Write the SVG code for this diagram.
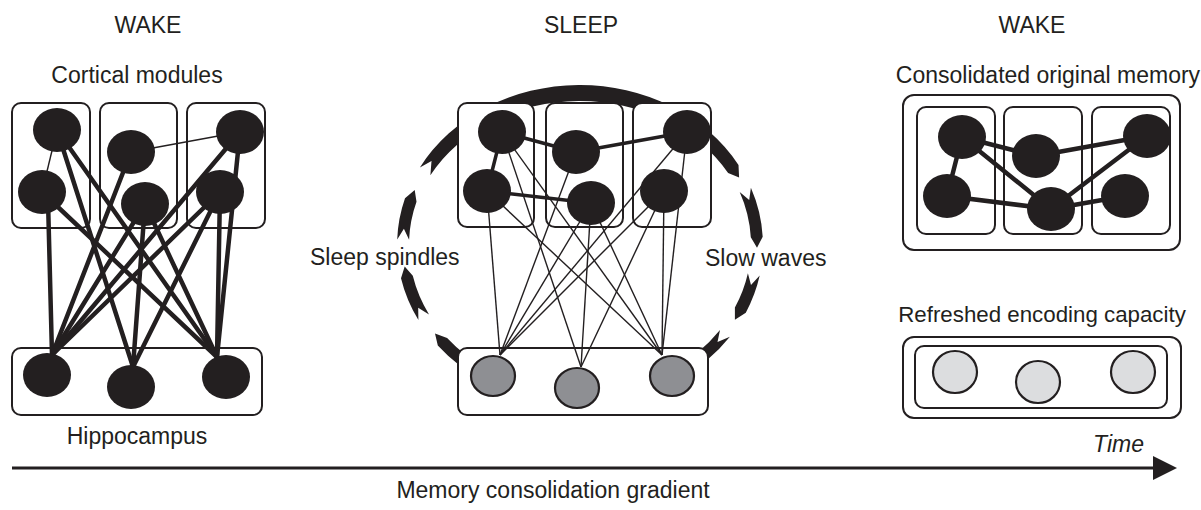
<svg xmlns="http://www.w3.org/2000/svg" width="1201" height="510" viewBox="0 0 1201 510">
<style>
.box{fill:#fff;stroke:#231f20;stroke-width:2}
.n{fill:#231f20}
.g{fill:#8e8f93;stroke:#231f20;stroke-width:2.2}
.lg{fill:#dcdddf;stroke:#231f20;stroke-width:2.2}
.thk{stroke:#231f20;stroke-width:4.5;stroke-linecap:round;fill:none}
.med{stroke:#231f20;stroke-width:3.5;stroke-linecap:round;fill:none}
.thn{stroke:#231f20;stroke-width:1.4;fill:none}
.arc{fill:#231f20}
text{font-family:"Liberation Sans",Arial,Helvetica,sans-serif;font-size:23px;fill:#231f20}
</style>

<g id="labels">
<text x="148" y="33" text-anchor="middle">WAKE</text>
<text x="581" y="33" text-anchor="middle">SLEEP</text>
<text x="1032" y="33" text-anchor="middle">WAKE</text>
<text x="137" y="83" text-anchor="middle">Cortical modules</text>
<text x="1048" y="83" text-anchor="middle">Consolidated original memory</text>
<text x="310" y="265">Sleep spindles</text>
<text x="705" y="266">Slow waves</text>
<text x="1042" y="322" text-anchor="middle" style="font-size:22.3px">Refreshed encoding capacity</text>
<text x="137" y="444" text-anchor="middle">Hippocampus</text>
<text x="1144" y="452" text-anchor="end" font-style="italic">Time</text>
<text x="553" y="498" text-anchor="middle">Memory consolidation gradient</text>
</g>

<g id="time-axis">
<line x1="12" y1="468" x2="1155" y2="468" stroke="#231f20" stroke-width="3"/>
<path d="M1153,456 L1177,468 L1153,480 Z" fill="#231f20"/>
</g>

<g id="sleep-cycle">
<path class="arc" d="M483.0,380.7 A183,160 0 0 1 437.8,345.6 L435.0,333.4 L447.1,338.1 A171,148 0 0 0 489.4,370.5 L475.9,369.6 Z"/>
<path class="arc" d="M418.4,320.1 A183,160 0 0 1 401.0,278.3 L404.7,266.4 L412.8,275.8 A171,148 0 0 0 429.0,314.4 L418.2,307.7 Z"/>
<path class="arc" d="M397.2,239.4 A183,160 0 0 1 405.0,198.3 L414.7,189.9 L416.5,201.8 A171,148 0 0 0 409.1,239.8 L403.9,228.8 Z"/>
<path class="arc" d="M419.9,167.4 A183,160 0 0 1 738.5,165 L739.1,177.5 L728.1,173 A171,144 0 0 0 430.4,175.2 L431.5,161.1 Z"/>
<path class="arc" d="M750.9,187.7 A183,160 0 0 1 762.7,236.7 L757.0,247.7 L750.8,237.3 A171,148 0 0 0 739.7,192.0 L749.2,200.0 Z"/>
<path class="arc" d="M759.7,275.6 A183,160 0 0 1 745.8,312.7 L734.9,319.7 L734.9,307.6 A171,148 0 0 0 747.9,273.3 L751.0,284.9 Z"/>
<path class="arc" d="M729.9,336.8 A183,160 0 0 1 677.0,380.7 L663.0,381.0 L670.6,370.5 A171,148 0 0 0 720.0,329.9 L717.5,341.9 Z"/>
</g>

<g id="wake1-modules">
<rect class="box" x="12" y="103" width="78" height="125" rx="9"/>
<rect class="box" x="100" y="103" width="77" height="125" rx="9"/>
<rect class="box" x="187" y="103" width="78" height="125" rx="9"/>
</g>
<g id="wake1-hippocampus"><rect class="box" x="12" y="348" width="250" height="67" rx="9"/></g>

<g id="sleep-modules">
<rect class="box" x="458" y="103" width="76" height="124" rx="9"/>
<rect class="box" x="546" y="103" width="77" height="124" rx="9"/>
<rect class="box" x="633" y="103" width="78" height="124" rx="9"/>
</g>
<g id="sleep-hippocampus"><rect class="box" x="458" y="348" width="250" height="67" rx="9"/></g>

<g id="consolidated-memory">
<rect class="box" x="903" y="95" width="277" height="155" rx="11"/>
<rect class="box" x="917" y="107" width="78" height="127" rx="9"/>
<rect class="box" x="1004" y="107" width="78" height="127" rx="9"/>
<rect class="box" x="1092" y="107" width="78" height="127" rx="9"/>
</g>
<g id="refreshed-capacity">
<rect class="box" x="903" y="337" width="278" height="81" rx="11"/>
<rect class="box" x="915" y="346" width="252" height="62" rx="9"/>
</g>

<g id="connectors">
<line class="thn" x1="57" y1="130" x2="42" y2="192"/>
<line class="thn" x1="131" y1="152" x2="240" y2="132"/>
<line class="thk" x1="57" y1="130" x2="133" y2="367"/>
<line class="thk" x1="57" y1="130" x2="217" y2="357"/>
<line class="thk" x1="48" y1="200" x2="52" y2="355"/>
<line class="thk" x1="42" y1="192" x2="217" y2="357"/>
<line class="thk" x1="131" y1="152" x2="52" y2="355"/>
<line class="thk" x1="145" y1="204" x2="52" y2="355"/>
<line class="thk" x1="145" y1="204" x2="133" y2="367"/>
<line class="thk" x1="145" y1="204" x2="217" y2="357"/>
<line class="thk" x1="240" y1="132" x2="52" y2="355"/>
<line class="thk" x1="240" y1="132" x2="217" y2="357"/>
<line class="thk" x1="220" y1="192" x2="52" y2="355"/>
<line class="thk" x1="220" y1="192" x2="133" y2="367"/>
<line class="thk" x1="220" y1="192" x2="217" y2="357"/>
<line class="med" x1="502" y1="132" x2="487" y2="191"/>
<line class="med" x1="502" y1="132" x2="576" y2="152"/>
<line class="med" x1="487" y1="191" x2="591" y2="203"/>
<line class="med" x1="576" y1="152" x2="687" y2="132"/>
<line class="thn" x1="502" y1="132" x2="581" y2="367"/>
<line class="thn" x1="502" y1="132" x2="662" y2="355"/>
<line class="thn" x1="487" y1="191" x2="500" y2="355"/>
<line class="thn" x1="487" y1="191" x2="662" y2="355"/>
<line class="thn" x1="576" y1="152" x2="500" y2="355"/>
<line class="thn" x1="591" y1="203" x2="500" y2="355"/>
<line class="thn" x1="591" y1="203" x2="581" y2="367"/>
<line class="thn" x1="591" y1="203" x2="662" y2="355"/>
<line class="thn" x1="687" y1="132" x2="500" y2="355"/>
<line class="thn" x1="687" y1="132" x2="662" y2="355"/>
<line class="thn" x1="664" y1="191" x2="500" y2="355"/>
<line class="thn" x1="664" y1="191" x2="581" y2="367"/>
<line class="thn" x1="664" y1="191" x2="662" y2="355"/>
<line class="thk" x1="962" y1="137" x2="947" y2="196"/>
<line class="thk" x1="962" y1="137" x2="1036" y2="156"/>
<line class="thk" x1="962" y1="137" x2="1051" y2="209"/>
<line class="thk" x1="947" y1="196" x2="1051" y2="209"/>
<line class="thk" x1="1036" y1="156" x2="1147" y2="136"/>
<line class="thk" x1="1051" y1="209" x2="1147" y2="136"/>
<line class="thk" x1="1051" y1="209" x2="1125" y2="196"/>
</g>

<g id="wake1-nodes">
<ellipse id="w1-a1" class="n" cx="57" cy="130" rx="24" ry="22"/>
<ellipse id="w1-a2" class="n" cx="42" cy="192" rx="24" ry="22"/>
<ellipse id="w1-b1" class="n" cx="131" cy="152" rx="24" ry="22"/>
<ellipse id="w1-b2" class="n" cx="145" cy="204" rx="24" ry="22"/>
<ellipse id="w1-c1" class="n" cx="240" cy="132" rx="24" ry="22"/>
<ellipse id="w1-c2" class="n" cx="220" cy="192" rx="24" ry="22"/>
<ellipse id="w1-h1" class="n" cx="47" cy="375" rx="24" ry="22"/>
<ellipse id="w1-h2" class="n" cx="131" cy="387" rx="24" ry="22"/>
<ellipse id="w1-h3" class="n" cx="226" cy="377" rx="24" ry="22"/>
</g>
<g id="sleep-nodes">
<ellipse id="s-a1" class="n" cx="502" cy="132" rx="24" ry="22"/>
<ellipse id="s-a2" class="n" cx="487" cy="191" rx="24" ry="22"/>
<ellipse id="s-b1" class="n" cx="576" cy="152" rx="24" ry="22"/>
<ellipse id="s-b2" class="n" cx="591" cy="203" rx="24" ry="22"/>
<ellipse id="s-c1" class="n" cx="687" cy="132" rx="24" ry="22"/>
<ellipse id="s-c2" class="n" cx="664" cy="191" rx="24" ry="22"/>
<ellipse id="s-h1" class="g" cx="493" cy="376" rx="22" ry="20"/>
<ellipse id="s-h2" class="g" cx="577" cy="388" rx="22" ry="20"/>
<ellipse id="s-h3" class="g" cx="672" cy="376" rx="22" ry="20"/>
</g>
<g id="wake2-nodes">
<ellipse id="w2-a1" class="n" cx="962" cy="137" rx="24" ry="22"/>
<ellipse id="w2-a2" class="n" cx="947" cy="196" rx="24" ry="22"/>
<ellipse id="w2-b1" class="n" cx="1036" cy="156" rx="24" ry="22"/>
<ellipse id="w2-b2" class="n" cx="1051" cy="209" rx="24" ry="22"/>
<ellipse id="w2-c1" class="n" cx="1147" cy="136" rx="24" ry="22"/>
<ellipse id="w2-c2" class="n" cx="1125" cy="196" rx="24" ry="22"/>
<ellipse id="w2-h1" class="lg" cx="955" cy="372" rx="22" ry="21"/>
<ellipse id="w2-h2" class="lg" cx="1038" cy="382" rx="22" ry="21"/>
<ellipse id="w2-h3" class="lg" cx="1133" cy="372" rx="22" ry="21"/>
</g>
</svg>
